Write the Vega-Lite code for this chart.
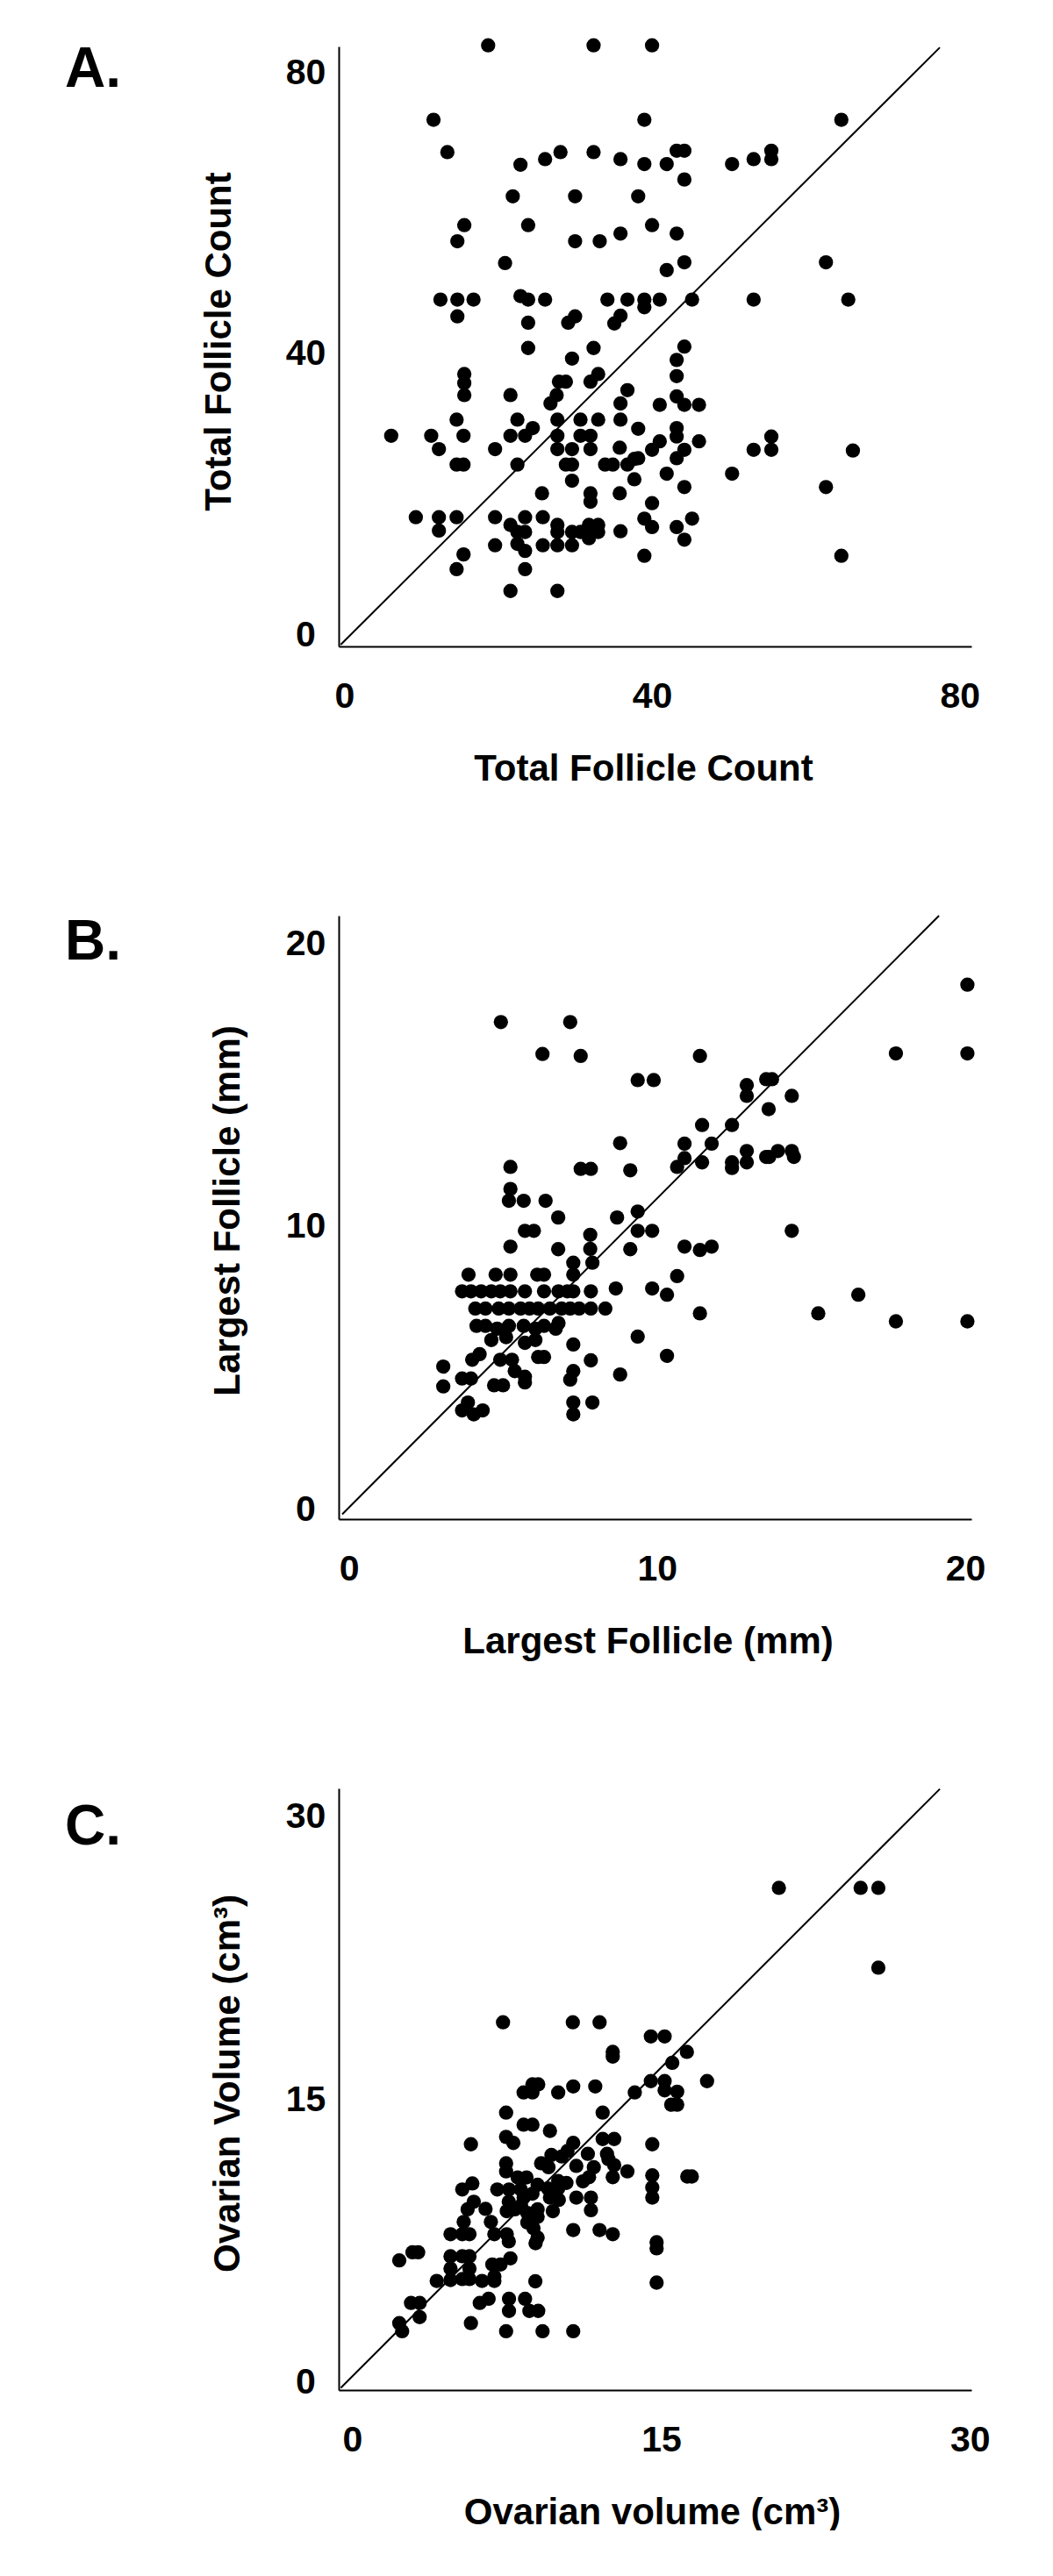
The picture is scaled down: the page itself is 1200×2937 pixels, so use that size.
{
  "$schema": "https://vega.github.io/schema/vega-lite/v6.json",
  "background": "white",
  "padding": {"left": 74, "top": 43, "right": 0, "bottom": 0},
  "spacing": 143,
  "config": {
    "font": "Liberation Sans",
    "view": {"stroke": null},
    "axis": {"grid": false, "ticks": false, "tickSize": 0, "domainColor": "black", "domainWidth": 2,
      "labelFont": "Liberation Sans", "labelFontSize": 41, "labelFontWeight": "bold", "labelColor": "black",
      "titleFont": "Liberation Sans", "titleFontSize": 42, "titleFontWeight": "bold", "titleColor": "black",
      "labelOverlap": false, "labelFlush": false, "labelBound": false},
    "axisX": {"labelPadding": 57, "labelBaseline": "middle", "labelAlign": "center", "titleBaseline": "middle", "titleAlign": "center", "titleY": 139},
    "axisY": {"labelPadding": 38, "labelBaseline": "middle", "labelAlign": "center", "titleBaseline": "middle", "titleAlign": "center", "titleAngle": 270, "titleY": 336},
    "title": {"font": "Liberation Sans", "fontSize": 64, "fontWeight": "bold", "color": "black", "anchor": "start", "frame": "group", "orient": "top", "offset": 0, "baseline": "alphabetic"}
  },
  "datasets": {
    "lineA": [{"x": -0.46, "y": -1.35}, {"x": 77.4, "y": 83.7}],
    "lineB": [{"x": -0.22, "y": -0.16}, {"x": 19.15, "y": 21.0}],
    "lineC": [{"x": -0.56, "y": -0.27}, {"x": 28.54, "y": 31.5}],
    "ptsA": [
      {"x":18.7,"y":84.0},{"x":32.4,"y":84.0},{"x":40.0,"y":84.0},
      {"x":11.6,"y":73.4},{"x":39.0,"y":73.4},{"x":64.6,"y":73.4},
      {"x":13.4,"y":68.8},{"x":32.4,"y":68.8},{"x":43.2,"y":69.0},{"x":44.2,"y":69.0},
      {"x":28.1,"y":68.8},{"x":26.1,"y":67.8},{"x":53.2,"y":67.8},{"x":55.5,"y":69.0},{"x":55.5,"y":67.8},
      {"x":22.9,"y":67.0},{"x":35.9,"y":67.8},{"x":39.0,"y":67.1},{"x":41.9,"y":67.1},{"x":50.4,"y":67.1},
      {"x":44.2,"y":64.9},
      {"x":21.9,"y":62.5},{"x":30.0,"y":62.5},{"x":38.2,"y":62.5},
      {"x":15.6,"y":58.4},{"x":23.9,"y":58.4},{"x":40.0,"y":58.4},
      {"x":35.9,"y":57.2},{"x":43.2,"y":57.2},
      {"x":14.7,"y":56.1},{"x":30.0,"y":56.1},{"x":33.2,"y":56.1},
      {"x":20.9,"y":53.0},{"x":44.2,"y":53.1},{"x":62.6,"y":53.1},
      {"x":41.9,"y":52.0},
      {"x":12.5,"y":47.8},{"x":14.7,"y":47.8},{"x":16.8,"y":47.8},{"x":22.9,"y":48.3},{"x":23.9,"y":47.8},{"x":26.1,"y":47.8},{"x":34.2,"y":47.8},{"x":36.8,"y":47.8},{"x":39.0,"y":47.8},{"x":39.0,"y":46.7},{"x":41.0,"y":47.8},{"x":45.2,"y":47.8},{"x":53.2,"y":47.8},{"x":65.5,"y":47.8},
      {"x":14.7,"y":45.4},{"x":30.0,"y":45.4},{"x":35.9,"y":45.5},{"x":35.1,"y":44.4},{"x":29.1,"y":44.5},{"x":23.9,"y":44.5},
      {"x":23.9,"y":40.9},{"x":32.4,"y":40.9},{"x":44.2,"y":41.1},
      {"x":29.6,"y":39.4},{"x":43.2,"y":39.2},
      {"x":33.0,"y":37.2},{"x":43.2,"y":36.9},{"x":15.6,"y":37.2},{"x":15.6,"y":35.9},{"x":15.6,"y":34.2},
      {"x":27.9,"y":36.1},{"x":28.8,"y":36.1},{"x":32.0,"y":36.1},{"x":27.6,"y":34.2},{"x":26.8,"y":33.0},{"x":21.6,"y":34.2},
      {"x":36.8,"y":34.9},{"x":35.9,"y":33.0},{"x":43.2,"y":34.0},{"x":44.2,"y":32.8},{"x":46.1,"y":32.8},{"x":41.0,"y":32.8},
      {"x":14.6,"y":30.7},{"x":22.5,"y":30.7},{"x":27.7,"y":30.7},{"x":30.7,"y":30.7},{"x":33.0,"y":30.7},{"x":35.9,"y":30.7},
      {"x":24.5,"y":29.5},{"x":38.2,"y":29.4},{"x":43.2,"y":29.5},
      {"x":6.1,"y":28.4},{"x":11.3,"y":28.4},{"x":15.5,"y":28.4},{"x":21.6,"y":28.4},{"x":23.5,"y":28.4},{"x":27.7,"y":28.4},{"x":30.7,"y":28.4},{"x":32.0,"y":28.4},{"x":43.2,"y":28.3},{"x":55.5,"y":28.3},
      {"x":41.0,"y":27.6},{"x":46.1,"y":27.6},
      {"x":12.3,"y":26.5},{"x":19.6,"y":26.5},{"x":27.7,"y":26.5},{"x":29.6,"y":26.5},{"x":32.0,"y":26.5},{"x":35.8,"y":26.7},{"x":40.0,"y":26.4},{"x":44.2,"y":26.4},{"x":53.2,"y":26.4},{"x":55.5,"y":26.4},{"x":66.1,"y":26.3},
      {"x":43.2,"y":25.2},{"x":38.2,"y":25.2},
      {"x":14.6,"y":24.3},{"x":15.5,"y":24.3},{"x":22.5,"y":24.3},{"x":28.8,"y":24.3},{"x":29.6,"y":24.3},{"x":33.9,"y":24.3},{"x":34.9,"y":24.3},{"x":36.8,"y":24.3},{"x":37.7,"y":25.1},
      {"x":41.9,"y":23.0},{"x":50.4,"y":23.0},
      {"x":29.6,"y":22.0},{"x":37.7,"y":22.2},
      {"x":44.2,"y":21.1},{"x":62.6,"y":21.1},
      {"x":25.7,"y":20.2},{"x":32.0,"y":20.2},{"x":35.8,"y":20.2},{"x":32.0,"y":19.0},{"x":40.0,"y":18.8},
      {"x":9.3,"y":16.8},{"x":12.3,"y":16.8},{"x":14.6,"y":16.8},{"x":19.6,"y":16.8},{"x":23.5,"y":16.8},{"x":25.8,"y":16.8},{"x":39.0,"y":16.6},{"x":45.2,"y":16.6},
      {"x":21.6,"y":15.7},{"x":27.7,"y":15.7},{"x":31.8,"y":15.7},{"x":33.0,"y":15.7},
      {"x":40.0,"y":15.4},{"x":43.2,"y":15.4},{"x":44.2,"y":13.6},
      {"x":12.3,"y":14.9},{"x":22.5,"y":14.7},{"x":23.5,"y":14.7},{"x":27.7,"y":14.7},{"x":29.6,"y":14.7},{"x":30.7,"y":14.7},{"x":33.0,"y":14.7},{"x":35.9,"y":14.8},
      {"x":31.8,"y":13.8},{"x":22.5,"y":13.0},
      {"x":19.6,"y":12.8},{"x":25.8,"y":12.8},{"x":27.7,"y":12.8},{"x":29.6,"y":12.8},
      {"x":23.5,"y":12.0},{"x":15.5,"y":11.5},{"x":39.0,"y":11.3},{"x":64.6,"y":11.3},
      {"x":14.6,"y":9.4},{"x":23.5,"y":9.4},
      {"x":21.6,"y":6.3},{"x":27.7,"y":6.3}
    ],
    "ptsB": [
      {"x":4.93,"y":17.24},{"x":7.18,"y":17.24},{"x":6.28,"y":16.11},{"x":7.52,"y":16.04},{"x":11.39,"y":16.04},{"x":17.75,"y":16.13},{"x":20.07,"y":16.13},{"x":20.07,"y":18.56},
      {"x":9.37,"y":15.19},{"x":9.89,"y":15.19},{"x":12.91,"y":15.01},{"x":12.91,"y":14.63},{"x":13.54,"y":15.22},{"x":13.73,"y":15.22},{"x":14.37,"y":14.63},{"x":13.62,"y":14.16},
      {"x":11.46,"y":13.6},{"x":12.43,"y":13.6},{"x":8.8,"y":12.96},{"x":10.89,"y":12.94},{"x":11.77,"y":12.94},
      {"x":10.89,"y":12.43},{"x":10.65,"y":12.12},{"x":11.46,"y":12.28},{"x":12.43,"y":12.28},{"x":12.43,"y":12.08},{"x":12.91,"y":12.68},{"x":12.91,"y":12.28},
      {"x":13.54,"y":12.47},{"x":13.64,"y":12.47},{"x":13.92,"y":12.68},{"x":14.37,"y":12.68},{"x":14.44,"y":12.47},
      {"x":5.24,"y":12.12},{"x":7.52,"y":12.05},{"x":7.85,"y":12.05},{"x":9.13,"y":12.0},
      {"x":5.24,"y":11.34},{"x":5.19,"y":10.92},{"x":5.67,"y":10.92},{"x":6.38,"y":10.92},{"x":6.79,"y":10.33},{"x":8.7,"y":10.33},{"x":9.37,"y":10.54},
      {"x":5.71,"y":9.86},{"x":6.0,"y":9.86},{"x":5.24,"y":9.3},{"x":6.79,"y":9.21},{"x":7.83,"y":9.72},{"x":7.83,"y":9.22},{"x":9.13,"y":9.21},{"x":9.37,"y":9.86},{"x":9.84,"y":9.86},{"x":14.37,"y":9.86},
      {"x":10.89,"y":9.3},{"x":11.39,"y":9.18},{"x":11.77,"y":9.3},{"x":10.65,"y":8.26},{"x":10.32,"y":7.6},{"x":11.39,"y":6.94},{"x":10.32,"y":5.44},
      {"x":15.23,"y":6.94},{"x":16.53,"y":7.6},{"x":17.75,"y":6.66},{"x":20.07,"y":6.66},
      {"x":7.28,"y":8.73},{"x":7.9,"y":8.73},
      {"x":3.88,"y":8.31},{"x":4.76,"y":8.31},{"x":5.24,"y":8.31},{"x":6.11,"y":8.31},{"x":6.33,"y":8.31},{"x":7.28,"y":8.31},
      {"x":3.67,"y":7.72},{"x":3.96,"y":7.72},{"x":4.29,"y":7.72},{"x":4.62,"y":7.72},{"x":4.91,"y":7.72},{"x":5.24,"y":7.72},{"x":5.71,"y":7.72},{"x":6.33,"y":7.72},{"x":6.8,"y":7.72},{"x":7.09,"y":7.72},{"x":7.28,"y":7.72},{"x":7.85,"y":7.72},{"x":8.66,"y":7.82},{"x":9.84,"y":7.82},
      {"x":4.1,"y":7.11},{"x":4.43,"y":7.11},{"x":4.86,"y":7.11},{"x":5.19,"y":7.11},{"x":5.57,"y":7.11},{"x":5.86,"y":7.11},{"x":6.14,"y":7.11},{"x":6.52,"y":7.11},{"x":6.9,"y":7.11},{"x":7.18,"y":7.11},{"x":7.47,"y":7.11},{"x":7.85,"y":7.11},{"x":8.32,"y":7.11},
      {"x":4.14,"y":6.5},{"x":4.43,"y":6.5},{"x":4.81,"y":6.4},{"x":5.19,"y":6.5},{"x":5.67,"y":6.5},{"x":6.05,"y":6.4},{"x":6.33,"y":6.5},{"x":6.71,"y":6.4},{"x":6.8,"y":6.6},
      {"x":9.37,"y":6.12},
      {"x":4.62,"y":6.0},{"x":5.1,"y":6.1},{"x":5.71,"y":5.9},{"x":6.05,"y":6.0},{"x":7.28,"y":5.84},
      {"x":4.0,"y":5.3},{"x":4.24,"y":5.5},{"x":4.91,"y":5.3},{"x":5.29,"y":5.3},{"x":6.14,"y":5.4},{"x":6.33,"y":5.4},{"x":7.85,"y":5.28},
      {"x":3.06,"y":5.06},{"x":3.06,"y":4.36},{"x":3.67,"y":4.64},{"x":3.96,"y":4.64},{"x":4.71,"y":4.4},{"x":5.0,"y":4.4},{"x":5.38,"y":4.9},{"x":5.71,"y":4.7},{"x":5.71,"y":4.5},{"x":7.18,"y":4.6},{"x":7.28,"y":4.9},{"x":8.8,"y":4.78},
      {"x":3.67,"y":3.51},{"x":3.86,"y":3.79},{"x":4.05,"y":3.37},{"x":4.34,"y":3.51},{"x":7.28,"y":3.79},{"x":7.28,"y":3.37},{"x":7.9,"y":3.79}
    ],
    "ptsC": [
      {"x":20.72,"y":26.25},{"x":24.69,"y":26.25},{"x":25.55,"y":26.25},{"x":25.55,"y":22.02},
      {"x":7.32,"y":19.12},{"x":10.71,"y":19.12},{"x":12.01,"y":19.12},
      {"x":14.5,"y":18.37},{"x":15.17,"y":18.37},
      {"x":12.65,"y":17.55},{"x":12.65,"y":17.3},{"x":16.25,"y":17.55},{"x":15.54,"y":16.97},{"x":17.23,"y":16.0},
      {"x":14.5,"y":16.0},{"x":15.17,"y":16.0},{"x":15.17,"y":15.51},{"x":15.78,"y":15.44},{"x":15.49,"y":14.75},{"x":15.78,"y":14.75},
      {"x":13.72,"y":15.4},
      {"x":8.75,"y":15.83},{"x":9.03,"y":15.83},{"x":8.32,"y":15.4},{"x":8.75,"y":15.4},{"x":10.0,"y":15.4},{"x":10.73,"y":15.72},{"x":11.8,"y":15.72},
      {"x":7.47,"y":14.33},{"x":12.16,"y":14.33},{"x":8.32,"y":13.69},{"x":8.75,"y":13.69},{"x":9.6,"y":13.36},{"x":7.47,"y":13.04},{"x":7.82,"y":12.72},{"x":5.76,"y":12.65},
      {"x":10.73,"y":12.72},{"x":10.45,"y":12.29},{"x":12.16,"y":12.93},{"x":12.72,"y":12.93},{"x":14.57,"y":12.65},{"x":11.44,"y":12.14},{"x":12.37,"y":12.14},
      {"x":7.47,"y":11.64},{"x":7.47,"y":11.21},{"x":9.17,"y":11.64},{"x":9.67,"y":12.08},{"x":9.53,"y":11.43},{"x":10.17,"y":12.0},{"x":10.88,"y":11.5},
      {"x":11.73,"y":11.43},{"x":12.44,"y":11.86},{"x":12.72,"y":11.54},{"x":13.36,"y":11.21},
      {"x":11.2,"y":10.68},{"x":11.5,"y":10.9},{"x":12.65,"y":10.9},
      {"x":14.57,"y":11.0},{"x":14.57,"y":10.36},{"x":14.57,"y":9.82},{"x":16.27,"y":10.94},{"x":16.49,"y":10.94},
      {"x":5.34,"y":10.25},{"x":5.83,"y":10.57},
      {"x":7.04,"y":10.25},{"x":7.61,"y":10.25},{"x":8.03,"y":10.89},{"x":8.46,"y":10.89},{"x":8.18,"y":10.25},{"x":8.75,"y":10.03},{"x":8.32,"y":9.82},
      {"x":9.0,"y":10.5},{"x":9.5,"y":10.3},{"x":10.0,"y":10.7},{"x":10.4,"y":10.6},{"x":9.6,"y":9.82},{"x":10.0,"y":10.3},{"x":10.88,"y":9.82},
      {"x":11.59,"y":9.82},{"x":11.59,"y":9.15},
      {"x":5.9,"y":9.6},{"x":5.6,"y":9.2},{"x":6.47,"y":9.22},
      {"x":7.6,"y":9.6},{"x":8.2,"y":9.4},{"x":7.5,"y":9.1},{"x":7.9,"y":9.2},{"x":8.5,"y":9.0},{"x":9.0,"y":9.2},{"x":9.0,"y":8.8},{"x":8.5,"y":8.5},{"x":8.8,"y":8.2},{"x":9.0,"y":7.7},{"x":8.9,"y":7.4},
      {"x":9.74,"y":9.1},{"x":10.03,"y":9.7},
      {"x":6.73,"y":8.53},{"x":5.41,"y":8.53},
      {"x":4.77,"y":7.88},{"x":5.34,"y":7.88},{"x":5.69,"y":7.88},{"x":6.9,"y":7.88},{"x":7.5,"y":7.88},{"x":7.6,"y":7.5},
      {"x":10.73,"y":8.1},{"x":12.01,"y":8.1},{"x":12.65,"y":7.88},
      {"x":2.28,"y":6.49},{"x":2.92,"y":6.92},{"x":3.2,"y":6.92},
      {"x":4.77,"y":6.71},{"x":4.77,"y":6.06},{"x":5.34,"y":6.71},{"x":5.69,"y":6.71},{"x":5.69,"y":6.06},
      {"x":7.68,"y":6.6},{"x":6.8,"y":6.27},{"x":7.2,"y":6.27},{"x":6.9,"y":5.63},
      {"x":4.1,"y":5.4},{"x":4.77,"y":5.45},{"x":5.34,"y":5.5},{"x":5.69,"y":5.5},{"x":6.3,"y":5.4},{"x":6.9,"y":5.4},{"x":8.89,"y":5.38},
      {"x":14.78,"y":7.45},{"x":14.78,"y":7.13},{"x":14.78,"y":5.31},
      {"x":2.85,"y":4.23},{"x":3.27,"y":4.23},{"x":3.27,"y":3.48},
      {"x":6.19,"y":4.23},{"x":6.62,"y":4.45},{"x":7.61,"y":4.45},{"x":7.61,"y":3.81},
      {"x":8.39,"y":4.45},{"x":8.6,"y":3.81},{"x":9.03,"y":3.81},
      {"x":2.28,"y":3.16},{"x":2.42,"y":2.73},{"x":5.76,"y":3.16},
      {"x":7.47,"y":2.73},{"x":9.24,"y":2.73},{"x":10.73,"y":2.73}
    ]
  },
  "vconcat": [
    {
      "width": 721, "height": 684,
      "title": {"text": "A.", "dx": -312, "dy": 72},
      "layer": [
        {
          "data": {"name": "lineA"},
          "mark": {"type": "line", "color": "black", "strokeWidth": 2},
          "encoding": {
            "x": {"field": "x", "type": "quantitative", "scale": {"domain": [-0.72, 81.5], "nice": false, "zero": false},
              "axis": {"title": "Total Follicle Count", "values": [0, 40, 80], "titleX": 347}},
            "y": {"field": "y", "type": "quantitative", "scale": {"domain": [-1.6, 83.84], "nice": false, "zero": false},
              "axis": {"title": "Total Follicle Count", "values": [0, 40, 80], "titleX": -137}}
          }
        },
        {
          "data": {"name": "ptsA"},
          "mark": {"type": "point", "filled": true, "size": 265, "opacity": 1, "color": "black"},
          "encoding": {"x": {"field": "x", "type": "quantitative"}, "y": {"field": "y", "type": "quantitative"}}
        }
      ]
    },
    {
      "width": 721, "height": 688,
      "title": {"text": "B.", "dx": -312, "dy": 71},
      "layer": [
        {
          "data": {"name": "lineB"},
          "mark": {"type": "line", "color": "black", "strokeWidth": 2},
          "encoding": {
            "x": {"field": "x", "type": "quantitative", "scale": {"domain": [-0.333, 20.2], "nice": false, "zero": false},
              "axis": {"title": "Largest Follicle (mm)", "values": [0, 10, 20], "titleX": 352}},
            "y": {"field": "y", "type": "quantitative", "scale": {"domain": [-0.332, 21.0], "nice": false, "zero": false},
              "axis": {"title": "Largest Follicle (mm)", "values": [0, 10, 20], "titleX": -127}}
          }
        },
        {
          "data": {"name": "ptsB"},
          "mark": {"type": "point", "filled": true, "size": 265, "opacity": 1, "color": "black"},
          "encoding": {"x": {"field": "x", "type": "quantitative"}, "y": {"field": "y", "type": "quantitative"}}
        }
      ]
    },
    {
      "width": 721, "height": 686,
      "title": {"text": "C.", "dx": -312, "dy": 84},
      "layer": [
        {
          "data": {"name": "lineC"},
          "mark": {"type": "line", "color": "black", "strokeWidth": 2},
          "encoding": {
            "x": {"field": "x", "type": "quantitative", "scale": {"domain": [-0.661, 30.07], "nice": false, "zero": false},
              "axis": {"title": "Ovarian volume (cm³)", "values": [0, 15, 30], "titleX": 357}},
            "y": {"field": "y", "type": "quantitative", "scale": {"domain": [-0.39, 31.53], "nice": false, "zero": false},
              "axis": {"title": "Ovarian Volume (cm³)", "values": [0, 15, 30], "titleX": -127}}
          }
        },
        {
          "data": {"name": "ptsC"},
          "mark": {"type": "point", "filled": true, "size": 265, "opacity": 1, "color": "black"},
          "encoding": {"x": {"field": "x", "type": "quantitative"}, "y": {"field": "y", "type": "quantitative"}}
        }
      ]
    }
  ]
}
